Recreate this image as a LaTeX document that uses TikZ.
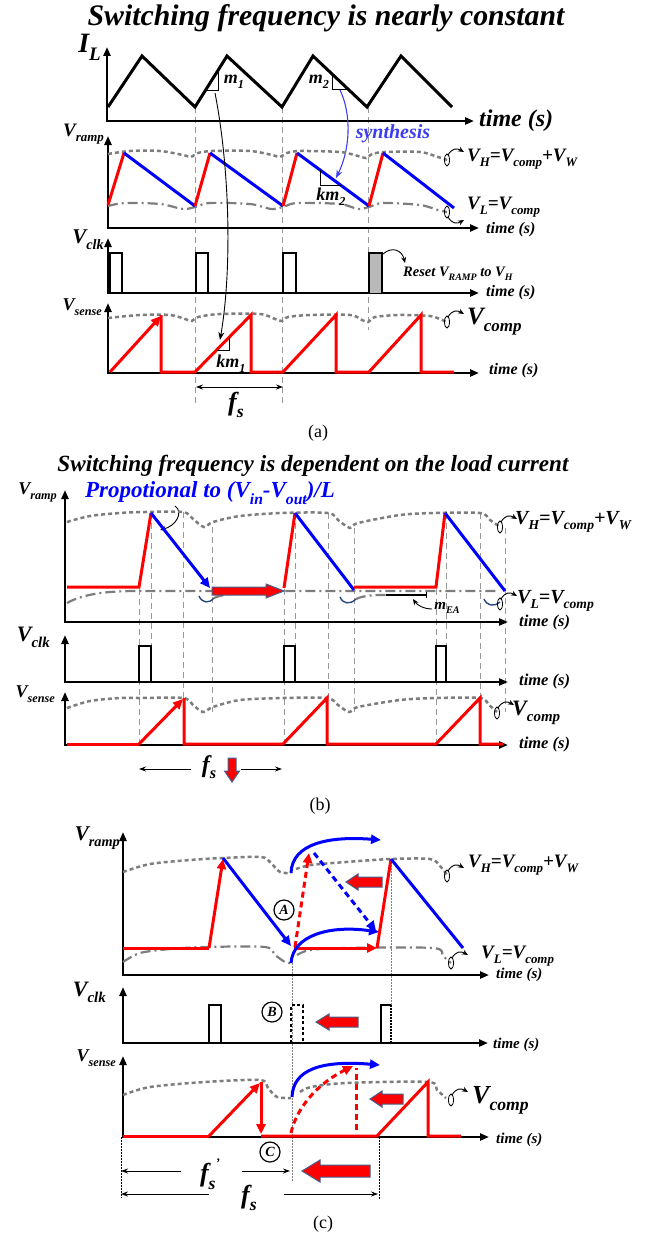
\documentclass[tikz,border=0pt]{standalone}
\usepackage{fontspec}
\setmainfont{Liberation Serif}
\usetikzlibrary{arrows.meta}
\definecolor{vgray}{RGB}{125,125,125}
\definecolor{fatedge}{RGB}{70,95,140}
\definecolor{darc}{RGB}{40,70,130}
\definecolor{synblue}{RGB}{60,60,240}
\newcommand{\lo}[1]{\raisebox{-0.28em}{\scalebox{0.68}{#1}}}
\newcommand{\fsz}[1]{\fontsize{#1}{#1}\selectfont}
\newcommand{\loopup}[2]{%
  \draw[line width=0.8pt] (#1,#2) ellipse (2.5pt and 6pt);
  \draw[line width=0.9pt,-{Stealth[length=6pt,width=5pt]}] (#1+1,#2-5) .. controls (#1+5,#2-12) and (#1+10,#2-12) .. (#1+17,#2-8);}
\newcommand{\loopdn}[2]{%
  \draw[line width=0.8pt] (#1,#2) ellipse (2.5pt and 6pt);
  \draw[line width=0.9pt,-{Stealth[length=6pt,width=5pt]}] (#1+1,#2+5) .. controls (#1+5,#2+12) and (#1+10,#2+12) .. (#1+17,#2+8);}
% tip x, tail x, mid y, body half, head half, head length
\newcommand{\fatleft}[6]{\draw[fat] (#1,#3) -- (#1+#6,#3-#5) -- (#1+#6,#3-#4) -- (#2,#3-#4) -- (#2,#3+#4) -- (#1+#6,#3+#4) -- (#1+#6,#3+#5) -- cycle;}
\newcommand{\fatright}[6]{\draw[fat] (#1,#3) -- (#1-#6,#3-#5) -- (#1-#6,#3-#4) -- (#2,#3-#4) -- (#2,#3+#4) -- (#1-#6,#3+#4) -- (#1-#6,#3+#5) -- cycle;}
\tikzset{
  ax/.style={line width=2.4pt, {Triangle[length=9pt,width=7pt]}-{Triangle[length=9pt,width=7pt]}},
  wave/.style={line width=3pt},
  redl/.style={red, line width=3pt},
  bluel/.style={blue, line width=3pt},
  vh/.style={vgray, line width=2.5pt, dash pattern=on 4pt off 3pt},
  vl/.style={vgray, line width=2.2pt, dash pattern=on 10pt off 4pt on 2pt off 4pt},
  gline/.style={gray!80, line width=0.8pt, dash pattern=on 6pt off 4pt},
  dotl/.style={gray, line width=0.7pt, dash pattern=on 1.5pt off 1.5pt},
  kdot/.style={black, line width=0.8pt, dash pattern=on 1.5pt off 1.5pt},
  thinarr/.style={line width=0.9pt, -{Stealth[length=7pt,width=5pt]}},
  rtip/.style={-{Triangle[length=10pt,width=9pt]}},
  bi/.style={font=\bfseries\itshape\fsz{#1}, inner sep=0pt},
  fat/.style={fill=red, draw=fatedge, line width=1pt},
  circ/.style={circle, draw, line width=1.2pt, minimum size=20pt, inner sep=0pt, font=\bfseries\itshape\fsz{14}},
  pulse/.style={line width=2.4pt},
}
\begin{document}
\begin{tikzpicture}[x=1pt,y=-1pt]
\useasboundingbox (0,0) rectangle (645,1236);
% ================= (a) =================
\node[bi=29.8] (ta) at (326,18) {Switching frequency is nearly constant};
\foreach \x/\yb in {195/407, 282.5/407, 368/330} \draw[gline] (\x,107) -- (\x,\yb);
% I_L
\node[bi=28,anchor=east] (il) at (101,47) {I\lo{L}};
\draw[ax] (107,47) -- (107,121) -- (474,121);
\node[bi=24,anchor=west] (til) at (479,121) {time (s)};
\draw[wave] (108,107) -- (142,56) -- (195,107) -- (227,56) -- (282,107) -- (313,56) -- (367,107) -- (401,56) -- (452,107);
\draw[line width=0.9pt] (205.5,90) -- (218,90) -- (218,70.5);
\node[bi=18] (m1) at (234,82) {m\lo{1}};
\draw[line width=0.9pt] (332,74) -- (332,89) -- (348,89);
\node[bi=18] (m2) at (319,82) {m\lo{2}};
\draw[synblue, line width=1.1pt, -{Stealth[length=8pt,width=6pt]}] (340,90) .. controls (352,115) and (350,150) .. (336,178);
\node[bi=20, text=synblue] (syn) at (393,134) {synthesis};
% V_ramp
\node[bi=19,anchor=east] (vra) at (104,134) {V\lo{ramp}};
\draw[ax] (108,136) -- (108,228) -- (479,228);
\node[bi=16,anchor=west] (tra) at (486,230) {time (s)};
\draw[vh] plot[smooth] coordinates {(108,154) (130,151) (160,151) (183,155) (191,157) (198,153) (212,151) (250,151) (272,155) (280,157) (287,153) (300,151) (340,152) (358,156) (366,158) (372,154) (385,152) (420,152) (438,157) (447,160)};
\draw[vl] plot[smooth] coordinates {(108,206) (125,203) (160,204) (183,209) (195,207) (210,203) (250,204) (271,209) (283,207) (297,203) (340,204) (358,209) (369,207) (383,203) (420,205) (438,210) (447,212)};
\draw[redl] (108,205) -- (124,153);
\draw[bluel] (124,153) -- (195,206);
\draw[redl] (195,206) -- (210,153);
\draw[bluel] (210,153) -- (283,206);
\draw[redl] (283,206) -- (297,153);
\draw[bluel] (297,153) -- (369,206);
\draw[redl] (369,206) -- (383,153);
\draw[bluel] (383,153) -- (454,208);
\draw[line width=0.9pt] (320,170) -- (320,185) -- (340.5,185);
\node[bi=18] (km2) at (331,197) {km\lo{2}};
\loopup{447}{160}
\node[bi=19,anchor=west] (vha) at (467,159) {V\lo{H}=V\lo{comp}+V\lo{W}};
\loopdn{447}{212}
\node[bi=19,anchor=west] (vla) at (467,207) {V\lo{L}=V\lo{comp}};
% V_clk
\node[bi=21,anchor=east] (vca) at (104,240) {V\lo{clk}};
\draw[ax] (108,238) -- (108,293) -- (479,293);
\node[bi=16,anchor=west] (tca) at (486,293) {time (s)};
\draw[pulse] (110,293) -- (110,253) -- (122,253) -- (122,293);
\draw[pulse] (196,293) -- (196,253) -- (208,253) -- (208,293);
\draw[pulse] (283,293) -- (283,253) -- (296,253) -- (296,293);
\draw[pulse, fill=gray!55] (369,293) -- (369,253) -- (382,253) -- (382,293);
\node[bi=14.5,anchor=west] (rst) at (403,274) {Reset V\lo{RAMP} to V\lo{H}};
\draw[line width=0.9pt,-{Stealth[length=6pt,width=5pt]}] (383,254) .. controls (392,246) and (402,250) .. (405,263);
% V_sense
\node[bi=18,anchor=east] (vsa) at (102,307) {V\lo{sense}};
\draw[ax] (108,303) -- (108,373) -- (479,373);
\node[bi=16,anchor=west] (tsa) at (489,371) {time (s)};
\draw[vh] plot[smooth] coordinates {(108,318) (140,315) (170,315) (185,319) (192,321) (198,317) (220,314) (260,314) (275,319) (282,321) (288,317) (310,315) (350,315) (362,320) (368,322) (375,317) (400,315) (430,316) (442,320) (447,322)};
\draw[redl, rtip] (110,372) -- (161,316);
\draw[redl] (161,315) -- (161,372) -- (195,372) -- (251,315) -- (251,372) -- (283,372) -- (336,315) -- (336,372) -- (369,372) -- (421,315) -- (421,372) -- (454,372);
\draw[line width=0.9pt] (216.6,350) -- (229,350) -- (229,337.4);
\node[bi=18] (km1) at (231,364) {km\lo{1}};
\loopup{447}{322}
\node[bi=25,anchor=west] (vcoa) at (467,322) {V\lo{comp}};
\draw[line width=0.9pt, -{Stealth[length=8pt,width=6pt]}] (215,93) .. controls (230,170) and (232,270) .. (220,340);
\draw[line width=0.9pt, {Stealth[length=7pt,width=5pt]}-{Stealth[length=7pt,width=5pt]}] (196,387) -- (283,387);
\node[bi=26] (fsa) at (236,405) {f\lo{s}};
\node[font=\fsz{18}] (capa) at (318,433) {(a)};
% ================= (b) =================
\node[bi=23.2] (tb) at (313,466) {Switching frequency is dependent on the load current};
\foreach \x/\ya/\yb in {139/589/745, 151/513/646, 183/512/698, 212/527/712, 284/589/745, 295/513/646, 328/513/698, 354/528/712, 436/589/745, 446/513/646, 480/513/698, 505/528/712}
  \draw[gline] (\x,\ya) -- (\x,\yb);
\node[bi=18,anchor=east] (vrb) at (57,492) {V\lo{ramp}};
\draw[ax] (65,490) -- (65,622) -- (508,622);
\node[bi=16.5,anchor=west] (trb) at (519,623) {time (s)};
\node[bi=23, text=blue] (prop) at (210,493) {Propotional to (V\lo{in}-V\lo{out})/L};
\draw[line width=0.9pt,-{Stealth[length=6pt,width=5pt]}] (175,506) .. controls (184,512) and (176,526) .. (160,530);
\draw[vh] plot[smooth] coordinates {(67,522) (90,516) (120,513) (145,512) (183,512) (193,519) (204,527) (213,522) (240,516) (282,513) (328,513) (338,520) (350,528) (358,523) (400,515) (434,513) (480,513) (490,520) (500,527)};
\draw[vl] (67,603) .. controls (85,593) and (110,591) .. (139,591) -- (498,591);
\draw[darc, line width=1.4pt] (199,596) .. controls (202,603) and (209,604) .. (214,598);
\draw[darc, line width=1.4pt] (340,597) .. controls (343,604) and (350,605) .. (356,599);
\draw[darc, line width=1.4pt] (484,599) .. controls (487,606) and (494,607) .. (500,602);
\draw[vl] (214,598) .. controls (228,592) and (255,591) .. (278,591);
\draw[vl] (356,599) .. controls (365,595) and (375,595) .. (386,595);
\draw[line width=1.6pt] (386,595) -- (426,595);
\draw[line width=0.9pt] (426,592) -- (426,598);
\draw[redl] (67,587) -- (139,587) -- (151,513);
\draw[bluel, rtip] (151,513) -- (210,588);
\fatright{284}{212}{591}{4}{7}{18}
\draw[redl] (284,588) -- (295,513);
\draw[bluel] (295,513) -- (354,590);
\draw[redl] (354,587) -- (436,587) -- (445,513);
\draw[bluel] (445,513) -- (505,591);
\node[bi=15] (mea) at (447,608) {m\lo{EA}};
\draw[line width=0.9pt,-{Stealth[length=6pt,width=5pt]}] (432,609) .. controls (424,609) and (417,605) .. (413,599);
\loopup{500}{527}
\node[bi=20,anchor=west] (vhb) at (515,522) {V\lo{H}=V\lo{comp}+V\lo{W}};
\loopup{500}{604}
\node[bi=20,anchor=west] (vlb) at (517,601) {V\lo{L}=V\lo{comp}};
% V_clk (b)
\node[bi=22,anchor=east] (vcb) at (50,637) {V\lo{clk}};
\draw[ax] (65,635) -- (65,682) -- (508,682);
\node[bi=16.5,anchor=west] (tcb) at (519,682) {time (s)};
\draw[pulse] (139,682) -- (139,646) -- (151,646) -- (151,682);
\draw[pulse] (284,682) -- (284,646) -- (295,646) -- (295,682);
\draw[pulse] (436,682) -- (436,646) -- (446,646) -- (446,682);
% V_sense (b)
\node[bi=18,anchor=east] (vsb) at (55,694) {V\lo{sense}};
\draw[ax] (65,692) -- (65,745) -- (508,745);
\node[bi=16.5,anchor=west] (tsb) at (519,745) {time (s)};
\draw[vh] plot[smooth] coordinates {(67,708) (90,701) (120,698) (139,698) (183,698) (193,705) (203,712) (213,707) (240,700) (283,698) (327,698) (338,705) (349,712) (358,707) (400,700) (436,698) (480,698) (489,705) (497,712)};
\draw[redl] (67,744) -- (139,744);
\draw[redl, rtip] (139,744) -- (183,699);
\draw[redl] (184,698) -- (184,744) -- (283,744) -- (327,698) -- (327,744) -- (436,744) -- (480,698) -- (480,744) -- (503,744);
\loopup{497}{713}
\node[bi=22,anchor=west] (vcob) at (512,713) {V\lo{comp}};
\node[bi=24] (fsb) at (209,767) {f\lo{s}};
\draw[thinarr] (191,769) -- (139,769);
\draw[thinarr] (241,769) -- (282,769);
\draw[fat] (228,758) -- (236,758) -- (236,771) -- (239.5,771) -- (232,782) -- (224.5,771) -- (228,771) -- cycle;
\node[font=\fsz{18}] (capb) at (320,806) {(b)};
% ================= (c) =================
\draw[dotl] (292,963) -- (292,1182);
\draw[dotl] (391,859) -- (391,1005);
\draw[kdot] (121,1137) -- (121,1198);
\draw[kdot] (379,1137) -- (379,1200);
\node[bi=21,anchor=east] (vrc) at (120,838) {V\lo{ramp}};
\draw[ax] (123,832) -- (123,975) -- (489,975);
\node[bi=15,anchor=west] (trc) at (496,975) {time (s)};
\draw[vh] plot[smooth] coordinates {(123,872) (150,864) (190,860) (223,858) (261,857) (270,862) (280,872) (291,873)};
\draw[vh] plot[smooth] coordinates {(296,869) (311,865) (346,862) (391,859) (430,859) (440,866) (447,875)};
\draw[vl] plot[smooth] coordinates {(123,962) (140,953) (170,949) (205,947) (265,947) (275,955) (285,962) (291,963)};
\draw[vl] plot[smooth] coordinates {(297,955) (310,950) (346,948) (433,948) (443,956) (451,963)};
\draw[redl] (123,948) -- (209,948);
\draw[redl, rtip] (209,948) -- (223,859);
\draw[bluel, rtip] (223,858) -- (291,946);
\draw[redl, rtip] (294,948) -- (377,948);
\draw[redl] (377,948) -- (391,859);
\draw[bluel] (391,859) -- (463,948);
\draw[redl, rtip, dash pattern=on 6pt off 4pt] (295,947) -- (309,853);
\draw[bluel, rtip, dash pattern=on 6pt off 4pt] (314,853) -- (376,931);
\draw[bluel, rtip] (291,873) .. controls (292,843) and (330,836) .. (381,840);
\draw[bluel, rtip] (291,963) .. controls (293,935) and (330,925) .. (379,932);
\fatleft{346}{382}{882}{5}{8}{12}
\node[circ] (ca) at (284,910) {A};
\loopup{447}{876}
\node[bi=19,anchor=west] (vhc) at (468,865) {V\lo{H}=V\lo{comp}+V\lo{W}};
\loopup{451}{963}
\node[bi=19,anchor=west] (vlc) at (481,956) {V\lo{L}=V\lo{comp}};
% V_clk (c)
\node[bi=22,anchor=east] (vcc) at (106,992) {V\lo{clk}};
\draw[ax] (123,987) -- (123,1043) -- (488,1043);
\node[bi=15,anchor=west] (tcc) at (493,1045) {time (s)};
\draw[pulse] (209,1043) -- (209,1005) -- (221,1005) -- (221,1043);
\draw[pulse] (381,1043) -- (381,1005) -- (391,1005);
\draw[line width=2.2pt, dash pattern=on 2pt off 1pt] (391,1005) -- (391,1043);
\draw[line width=2.2pt, dash pattern=on 3pt off 2.5pt] (291,1043) -- (291,1005) -- (303,1005) -- (303,1043);
\node[circ] (cb) at (272,1012) {B};
\fatleft{316}{358}{1022}{5}{8}{13}
% V_sense (c)
\node[bi=18,anchor=east] (vsc) at (116,1058) {V\lo{sense}};
\draw[ax] (123,1056) -- (123,1137) -- (489,1137);
\node[bi=15,anchor=west] (tsc) at (496,1140) {time (s)};
\draw[vh] plot[smooth] coordinates {(123,1095) (150,1087) (205,1082) (260,1080) (268,1088) (277,1097) (291,1098)};
\draw[vh] plot[smooth] coordinates {(300,1092) (311,1087) (346,1083) (428,1082) (437,1090) (446,1098)};
\draw[redl] (123,1136) -- (209,1136);
\draw[redl, rtip] (209,1136) -- (260,1083);
\draw[redl, rtip] (261,1082) -- (261,1134);
\draw[redl] (261,1136) -- (377,1136) -- (428,1082) -- (428,1136) -- (461,1136);
\draw[redl, rtip, dash pattern=on 6pt off 4pt] (291,1133) .. controls (296,1110) and (315,1085) .. (353,1066);
\draw[redl, dash pattern=on 6pt off 4pt] (356,1130) -- (356,1068);
\draw[bluel, rtip] (292,1097) .. controls (293,1070) and (320,1060) .. (380,1065);
\fatleft{370}{403}{1099}{5}{8}{12}
\loopup{451}{1100}
\node[bi=26,anchor=west] (vcoc) at (472,1100) {V\lo{comp}};
\node[circ] (cc) at (270,1152) {C};
% f_s', f_s
\draw[thinarr] (181,1171) -- (121,1171);
\draw[thinarr] (242,1171) -- (290,1171);
\node[bi=26] (fsp) at (210,1174) {f\lo{s}\raisebox{0.55em}{\scalebox{0.5}{'}}};
\fatleft{302}{370}{1171}{6}{11}{18}
\draw[thinarr] (209,1194) -- (121,1194);
\draw[thinarr] (284,1194) -- (378,1194);
\node[bi=26] (fsc) at (249,1198) {f\lo{s}};
\node[font=\fsz{18}] (capc) at (323,1224) {(c)};
\end{tikzpicture}
\end{document}
